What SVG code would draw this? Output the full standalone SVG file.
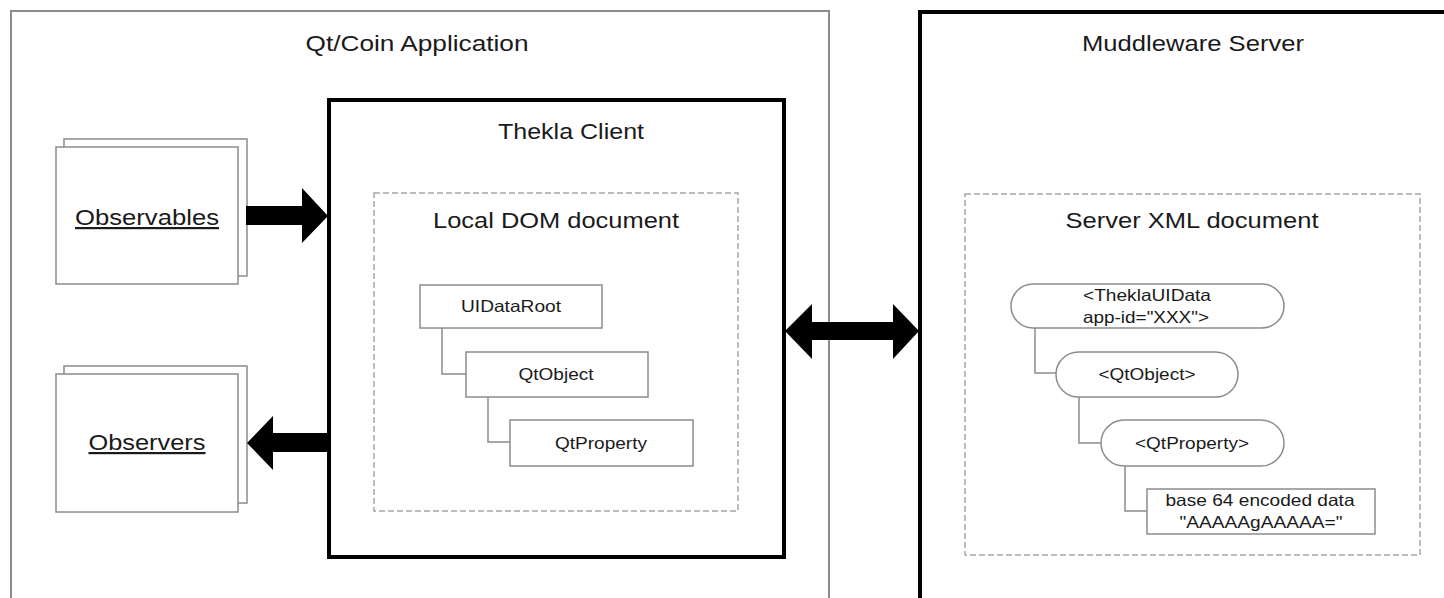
<svg xmlns="http://www.w3.org/2000/svg" width="1444" height="598" viewBox="0 0 1444 598">
<style>
text{font-family:"Liberation Sans",Arial,sans-serif;fill:#1a1a1a;text-anchor:middle;}
.big{font-size:22px;}
.sm{font-size:16.5px;}
.frame{fill:#fff;stroke:#8c8c8c;stroke-width:2;}
.thick{fill:#fff;stroke:#000;stroke-width:4;}
.dash{fill:none;stroke:#a6a6a6;stroke-width:1.5;stroke-dasharray:6 3;}
.node{fill:#fff;stroke:#8c8c8c;stroke-width:1.5;}
.conn{fill:none;stroke:#8c8c8c;stroke-width:1.5;}
.arrow{fill:#000;stroke:none;}
</style>
<rect width="1444" height="598" fill="#fff"/>
<g id="qt-coin-app">
<rect class="frame" x="11" y="11" width="818" height="600"/>
<text class="big" x="417" y="51" textLength="223" lengthAdjust="spacingAndGlyphs">Qt/Coin Application</text>
</g>
<g id="muddleware-server">
<rect class="thick" x="920" y="12" width="540" height="600"/>
<text class="big" x="1193" y="51" textLength="222" lengthAdjust="spacingAndGlyphs">Muddleware Server</text>
</g>
<g id="thekla-client">
<rect class="thick" x="329" y="100" width="455" height="457"/>
<text class="big" x="571" y="139" textLength="146" lengthAdjust="spacingAndGlyphs">Thekla Client</text>
</g>
<g id="local-dom">
<rect class="dash" x="374" y="193" width="364" height="318"/>
<text class="big" x="556" y="228" textLength="246" lengthAdjust="spacingAndGlyphs">Local DOM document</text>
</g>
<g id="server-xml">
<rect class="dash" x="965" y="194" width="455" height="361"/>
<text class="big" x="1192" y="228" textLength="253" lengthAdjust="spacingAndGlyphs">Server XML document</text>
</g>
<g id="observables">
<rect class="node" x="64" y="139" width="183" height="137"/>
<rect class="node" x="56" y="147" width="182" height="137"/>
<text class="big" x="147" y="225" textLength="144" lengthAdjust="spacingAndGlyphs" text-decoration="underline">Observables</text>
</g>
<g id="observers">
<rect class="node" x="64" y="366" width="183" height="137"/>
<rect class="node" x="56" y="374" width="182" height="138"/>
<text class="big" x="147" y="450" textLength="117" lengthAdjust="spacingAndGlyphs" text-decoration="underline">Observers</text>
</g>
<g id="connectors">
<path class="conn" d="M442 328 V374 H466"/>
<path class="conn" d="M488 397 V442 H510"/>
<path class="conn" d="M1035 328 V373 H1056"/>
<path class="conn" d="M1079 397 V443 H1101"/>
<path class="conn" d="M1125 466 V511 H1147"/>
<path class="arrow" d="M246 206 H302 V188 L328 216 L302 243 V225 H246 Z"/>
<path class="arrow" d="M328 433 H273 V416 L247 443 L273 470 V452 H328 Z"/>
<path class="arrow" d="M785 331 L812 304 V322 H893 V304 L919 331 L893 359 V340 H812 V359 Z"/>
</g>
<g id="uidataroot">
<rect class="node" x="420" y="285" width="182" height="43"/>
<text class="sm" x="511" y="312" textLength="100" lengthAdjust="spacingAndGlyphs">UIDataRoot</text>
</g>
<g id="qtobject">
<rect class="node" x="466" y="352" width="182" height="45"/>
<text class="sm" x="556" y="380" textLength="75" lengthAdjust="spacingAndGlyphs">QtObject</text>
</g>
<g id="qtproperty">
<rect class="node" x="510" y="420" width="183" height="46"/>
<text class="sm" x="601" y="449" textLength="92" lengthAdjust="spacingAndGlyphs">QtProperty</text>
</g>
<g id="thekla-uidata">
<rect class="node" x="1011" y="284" width="273" height="44" rx="22"/>
<text class="sm" x="1147" y="301" textLength="128" lengthAdjust="spacingAndGlyphs">&lt;TheklaUIData</text>
<text class="sm" x="1146" y="323" textLength="126" lengthAdjust="spacingAndGlyphs">app-id="XXX"&gt;</text>
</g>
<g id="xml-qtobject">
<rect class="node" x="1056" y="352" width="182" height="45" rx="22.5"/>
<text class="sm" x="1147" y="380" textLength="97" lengthAdjust="spacingAndGlyphs">&lt;QtObject&gt;</text>
</g>
<g id="xml-qtproperty">
<rect class="node" x="1101" y="420" width="183" height="46" rx="23"/>
<text class="sm" x="1192" y="449" textLength="114" lengthAdjust="spacingAndGlyphs">&lt;QtProperty&gt;</text>
</g>
<g id="base64">
<rect class="node" x="1147" y="489" width="228" height="45"/>
<text class="sm" x="1260" y="506" textLength="189" lengthAdjust="spacingAndGlyphs">base 64 encoded data</text>
<text class="sm" x="1261" y="528" textLength="163" lengthAdjust="spacingAndGlyphs">"AAAAAgAAAAA="</text>
</g>
</svg>
